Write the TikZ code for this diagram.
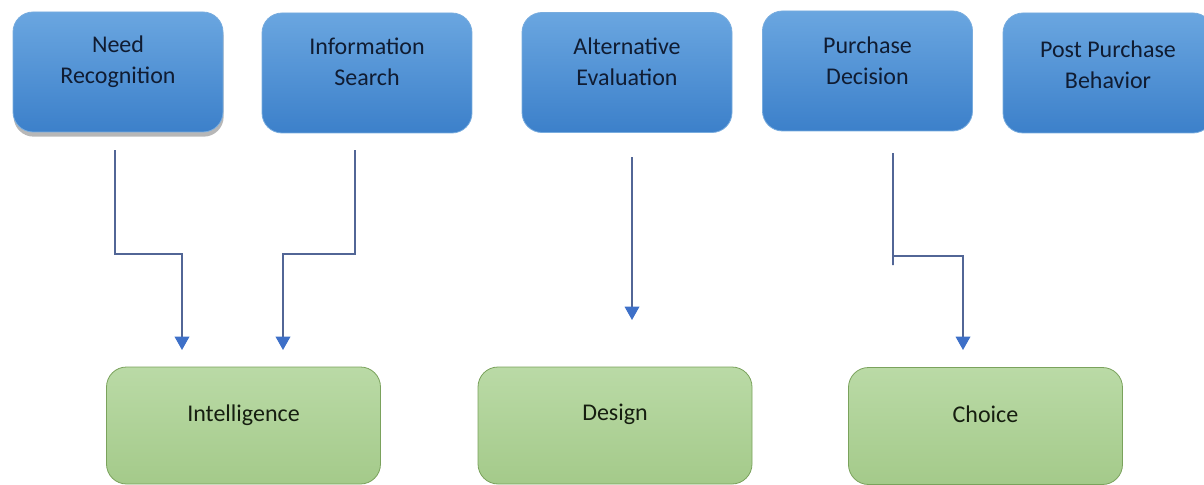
\documentclass[tikz,border=0pt]{standalone}
\usepackage{fontspec}
\setmainfont{Carlito}
\usetikzlibrary{arrows.meta,shadows}
\definecolor{stagetop}{RGB}{106,166,224}
\definecolor{stagebottom}{RGB}{60,128,202}
\definecolor{stageedge}{RGB}{120,172,222}
\definecolor{stagetext}{RGB}{16,28,50}
\definecolor{phasetop}{RGB}{186,218,166}
\definecolor{phasebottom}{RGB}{164,202,138}
\definecolor{phaseedge}{RGB}{122,162,92}
\definecolor{phasetext}{RGB}{22,30,16}
\definecolor{linegray}{RGB}{82,102,150}
\definecolor{tipblue}{RGB}{62,112,200}

\begin{document}
\begin{tikzpicture}[x=0.75pt,y=0.75pt,yscale=-1,xscale=1,
  stagebox/.style={draw=stageedge,line width=0.6pt,rounded corners=15pt,top color=stagetop,bottom color=stagebottom,minimum width=157.5pt,minimum height=90pt,inner sep=0pt},
  phasebox/.style={draw=phaseedge,line width=0.6pt,rounded corners=15pt,top color=phasetop,bottom color=phasebottom,minimum width=205.5pt,minimum height=87.75pt,inner sep=0pt},
  stagelabel/.style={text=stagetext,align=center,inner sep=0.75pt,font=\fontsize{18}{23}\selectfont},
  phaselabel/.style={text=phasetext,align=center,inner sep=0.75pt,font=\fontsize{18}{23}\selectfont},
  flow/.style={draw=linegray,line width=1pt,-{Triangle[width=11pt,length=10pt,color=tipblue]}}]
%set diagram left start at 0, and has height of 485
\useasboundingbox (0,0) rectangle (1204,485);
\clip (0,0) rectangle (1204,485);

%Stage boxes
\node[stagebox,drop shadow={opacity=0.4,shadow xshift=0.5pt,shadow yshift=-3.5pt,fill=black!70}] (need) at (118,72) {};
\node[stagebox] (info) at (367,73) {};
\node[stagebox] (alt) at (627,72.5) {};
\node[stagebox] (purch) at (867.5,71) {};
\node[stagebox] (post) at (1108,73) {};

%Phase boxes
\node[phasebox] (intel) at (243.5,425.5) {};
\node[phasebox] (design) at (615,425.5) {};
\node[phasebox] (choice) at (985.5,426) {};

% Text Node
\node[stagelabel] (needtxt) at (118,62) {Need\\Recognition};
% Text Node
\node[stagelabel] (infotxt) at (367,62) {Information\\Search};
% Text Node
\node[stagelabel] (alttxt) at (627,62) {Alternative\\Evaluation};
% Text Node
\node[stagelabel] (purchtxt) at (867.5,61) {Purchase\\Decision};
% Text Node
\node[stagelabel] (posttxt) at (1108,65) {Post Purchase\\Behavior};
% Text Node
\node[phaselabel] (inteltxt) at (243.5,415) {Intelligence};
% Text Node
\node[phaselabel] (designtxt) at (615,414) {Design};
% Text Node
\node[phaselabel] (choicetxt) at (985.5,414) {Choice};

%Connector ends
\coordinate (needout) at (115,150);
\coordinate (infoout) at (355,150);
\coordinate (altout) at (632,157);
\coordinate (purchout) at (893,153);
\coordinate (intelinA) at (182,350);
\coordinate (intelinB) at (283,350);
\coordinate (designin) at (632,320);
\coordinate (choicein) at (963,350);

%Straight Lines
\draw[flow] (needout) -- (needout |- 0,254) -| (intelinA);
\draw[flow] (infoout) -- (infoout |- 0,254) -| (intelinB);
\draw[flow] (altout) -- (designin);
\draw[flow] (purchout) -- (purchout |- 0,265) -- (purchout |- 0,256) -| (choicein);

\end{tikzpicture}
\end{document}
